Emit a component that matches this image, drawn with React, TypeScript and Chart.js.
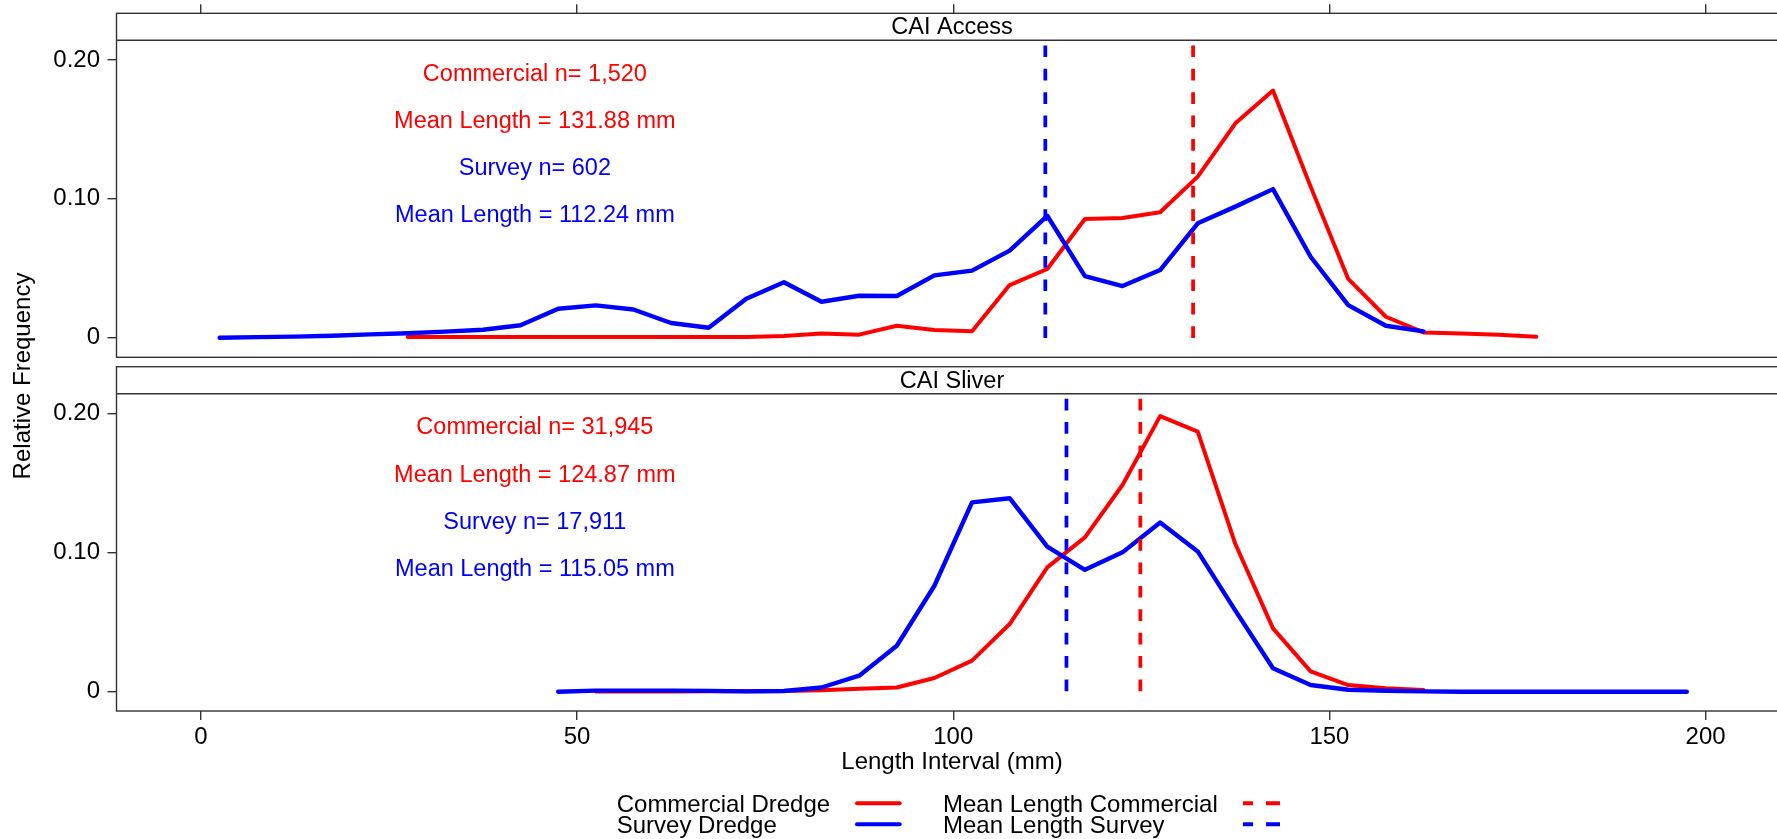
import React, { useEffect, useRef } from "react";
import { Chart, registerables } from "chart.js";

Chart.register(...registerables);

// ---- data ----------------------------------------------------------------
// Shell-length bin midpoints (mm)
const lengthBins = [
  2.5, 7.5, 12.5, 17.5, 22.5, 27.5, 32.5, 37.5, 42.5, 47.5,
  52.5, 57.5, 62.5, 67.5, 72.5, 77.5, 82.5, 87.5, 92.5, 97.5,
  102.5, 107.5, 112.5, 117.5, 122.5, 127.5, 132.5, 137.5, 142.5, 147.5,
  152.5, 157.5, 162.5, 167.5, 172.5, 177.5, 182.5, 187.5, 192.5, 197.5,
];

// CAI Access — relative frequency per bin (null = no fish in range)
const accessCommercial = [
  null, null, null, null, null, 0.0005, 0.0005, 0.0005, 0.0005, 0.0005,
  0.0005, 0.0005, 0.0005, 0.0005, 0.0005, 0.0013, 0.003, 0.0022, 0.0086, 0.0055,
  0.0046, 0.0379, 0.0495, 0.0855, 0.0862, 0.0903, 0.116, 0.1544, 0.178, 0.1088,
  0.0423, 0.0151, 0.0038, 0.0031, 0.0022, 0.0007, null, null, null, null,
];
const accessSurvey = [
  0, 0.0004, 0.0008, 0.0014, 0.0024, 0.0032, 0.0044, 0.0057, 0.009, 0.0208,
  0.0233, 0.0203, 0.0106, 0.0072, 0.028, 0.0399, 0.0259, 0.0302, 0.03, 0.0449,
  0.0483, 0.0627, 0.0878, 0.0444, 0.0372, 0.0487, 0.0824, 0.0944, 0.107, 0.0583,
  0.0235, 0.0086, 0.0045, null, null, null, null, null, null, null,
];

// CAI Sliver
const sliverCommercial = [
  null, null, null, null, null, null, null, null, null, null,
  0.0002, 0.0002, 0.0002, 0.0003, 0.0003, 0.0005, 0.001, 0.0022, 0.003, 0.0098,
  0.0223, 0.0486, 0.0893, 0.1109, 0.1485, 0.198, 0.1868, 0.1061, 0.0455, 0.0146,
  0.0048, 0.0024, 0.0012, null, null, null, null, null, null, null,
];
const sliverSurvey = [
  null, null, null, null, null, null, null, null, null, 0,
  0.0008, 0.0008, 0.0008, 0.0006, 0.0002, 0.0005, 0.003, 0.0115, 0.033, 0.0761,
  0.136, 0.139, 0.1042, 0.0876, 0.1001, 0.1216, 0.1008, 0.0582, 0.0168, 0.0048,
  0.0014, 0.0007, 0.0002, 0, 0, 0, 0, 0, 0, 0,
];

// Mean lengths (mm)
const accessMeans = { commercial: 131.88, survey: 112.24 };
const sliverMeans = { commercial: 124.87, survey: 115.05 };

// Panel titles and in-panel summary text
const panelTitles = ["CAI Access", "CAI Sliver"];
const accessSummary = ["Commercial n= 1,520", "Mean Length = 131.88 mm", "Survey n= 602", "Mean Length = 112.24 mm"];
const sliverSummary = ["Commercial n= 31,945", "Mean Length = 124.87 mm", "Survey n= 17,911", "Mean Length = 115.05 mm"];

// Axis ticks
const xTicks = [0, 50, 100, 150, 200];
const yTicks = [0, 0.1, 0.2];

// Legend entries
const legendSeries = ["Commercial Dredge", "Survey Dredge"];
const legendMeans = ["Mean Length Commercial", "Mean Length Survey"];

// ---- styling ---------------------------------------------------------------
const RED = "#ff0000";
const BLUE = "#0000ff";
const FRAME = "#333333";
const FONT = "'Liberation Sans', Arial, Helvetica, sans-serif";

const X_MIN = -11.204;
const X_MAX = 210.88;
const TOP_RANGE = { min: -0.02089, max: 0.23363 };
const BOT_RANGE = { min: -0.013865, max: 0.23348 };
const STRIP_H = 27;
const PANEL_GAP = 9.4;
const MEAN_LINE = { from: 0.2105, to: -0.001 };
const SUMMARY_X = 44.4;
const SUMMARY_Y0 = 0.185;
const SUMMARY_STEP = 0.034;

const toPoints = (vals: (number | null)[]) =>
  lengthBins
    .map((x, i) => ({ x, y: vals[i] }))
    .filter((p) => p.y !== null) as { x: number; y: number }[];

const seriesLine = (label: string, vals: (number | null)[], color: string, yAxisID: string, width: number, order: number) => ({
  label,
  data: toPoints(vals),
  borderColor: color,
  backgroundColor: color,
  borderWidth: width,
  pointRadius: 0,
  tension: 0,
  fill: false,
  borderJoinStyle: "round" as const,
  borderCapStyle: "round" as const,
  yAxisID,
  order,
});

const meanLine = (label: string, x: number, color: string, yAxisID: string) => ({
  label,
  data: [
    { x, y: MEAN_LINE.from },
    { x, y: MEAN_LINE.to },
  ],
  borderColor: color,
  backgroundColor: color,
  borderWidth: 3.75,
  borderDash: [11.7, 11.7],
  borderCapStyle: "butt" as const,
  pointRadius: 0,
  fill: false,
  yAxisID,
  order: 0,
});

const yAxis = (range: { min: number; max: number }, weight: number) => ({
  type: "linear" as const,
  position: "left" as const,
  stack: "panels",
  stackWeight: weight,
  min: range.min,
  max: range.max,
  afterBuildTicks: (axis: any) => {
    axis.ticks = yTicks.map((value) => ({ value }));
  },
  afterFit: (axis: any) => {
    axis.width = 116.5;
    axis.paddingTop = 0;
    axis.paddingBottom = 0;
  },
  grid: { drawOnChartArea: false, drawTicks: true, tickLength: 9, color: FRAME, lineWidth: 1.4 },
  border: { display: false },
  ticks: {
    color: "#000",
    padding: 7.5,
    font: { size: 24, family: FONT },
    callback: (v: any) => (Number(v) === 0 ? "0" : Number(v).toFixed(2)),
  },
});

const xAxis = (position: "top" | "bottom", height: number, showLabels: boolean) => ({
  type: "linear" as const,
  position,
  min: X_MIN,
  max: X_MAX,
  afterBuildTicks: (axis: any) => {
    axis.ticks = xTicks.map((value) => ({ value }));
  },
  afterFit: (axis: any) => {
    axis.height = height;
    axis.paddingLeft = 0;
    axis.paddingRight = 0;
  },
  grid: { drawOnChartArea: false, drawTicks: true, tickLength: 9, color: FRAME, lineWidth: 1.4 },
  border: { display: false },
  ticks: {
    display: showLabels,
    color: "#000",
    padding: 3,
    maxRotation: 0,
    autoSkip: false,
    font: { size: 24, family: FONT },
    callback: (v: any) => String(v),
  },
});

// Frames, strip headers, summary text, axis titles and legend
const panelDecor = {
  id: "panelDecor",
  beforeDraw(chart: any) {
    const { ctx, width, height } = chart;
    ctx.save();
    ctx.fillStyle = "#fff";
    ctx.fillRect(0, 0, width, height);
    ctx.restore();
  },
  afterDatasetsDraw(chart: any) {
    const { ctx, chartArea } = chart;
    const left = chartArea.left;
    const right = chartArea.right;
    const xs = chart.scales.x;
    const panels = [
      { axis: "yTop", title: panelTitles[0], summary: accessSummary, gap: PANEL_GAP },
      { axis: "yBot", title: panelTitles[1], summary: sliverSummary, gap: 0 },
    ];
    const summaryColors = [RED, RED, BLUE, BLUE];

    ctx.save();
    panels.forEach((p) => {
      const s = chart.scales[p.axis];
      const top = s.top;
      const bottom = s.bottom - p.gap;
      // strip
      ctx.fillStyle = "#fff";
      ctx.fillRect(left, top, right - left, STRIP_H);
      ctx.strokeStyle = FRAME;
      ctx.lineWidth = 1.4;
      ctx.strokeRect(left, top, right - left, bottom - top);
      ctx.beginPath();
      ctx.moveTo(left, top + STRIP_H);
      ctx.lineTo(right, top + STRIP_H);
      ctx.stroke();
      ctx.fillStyle = "#000";
      ctx.font = `23.5px ${FONT}`;
      ctx.textAlign = "center";
      ctx.textBaseline = "alphabetic";
      ctx.fillText(p.title, (left + right) / 2, top + 21);
      // summary text
      const cx = xs.getPixelForValue(SUMMARY_X);
      p.summary.forEach((t, i) => {
        ctx.fillStyle = summaryColors[i];
        ctx.fillText(t, cx, s.getPixelForValue(SUMMARY_Y0 - i * SUMMARY_STEP));
      });
    });

    // axis titles
    ctx.fillStyle = "#000";
    ctx.font = `24px ${FONT}`;
    ctx.textAlign = "center";
    ctx.fillText("Length Interval (mm)", (left + right) / 2, 769);
    ctx.save();
    ctx.translate(30, 376);
    ctx.rotate(-Math.PI / 2);
    ctx.fillText("Relative Frequency", 0, 0);
    ctx.restore();

    // legend
    ctx.textAlign = "left";
    const colColors = [RED, BLUE];
    const baselines = [812.3, 833.3];
    const symbolY = [803.3, 824.3];
    legendSeries.forEach((t, i) => {
      ctx.fillStyle = "#000";
      ctx.fillText(t, 616.7, baselines[i]);
      ctx.strokeStyle = colColors[i];
      ctx.lineWidth = 4;
      ctx.lineCap = "round";
      ctx.setLineDash([]);
      ctx.beginPath();
      ctx.moveTo(857, symbolY[i]);
      ctx.lineTo(899.7, symbolY[i]);
      ctx.stroke();
    });
    legendMeans.forEach((t, i) => {
      ctx.fillStyle = "#000";
      ctx.fillText(t, 943, baselines[i]);
      ctx.strokeStyle = colColors[i];
      ctx.lineWidth = 4;
      ctx.lineCap = "butt";
      ctx.beginPath();
      ctx.moveTo(1243, symbolY[i]);
      ctx.lineTo(1253, symbolY[i]);
      ctx.moveTo(1266, symbolY[i]);
      ctx.lineTo(1280, symbolY[i]);
      ctx.stroke();
    });
    ctx.restore();
  },
};

export default function App() {
  const canvasRef = useRef<HTMLCanvasElement>(null);

  useEffect(() => {
    document.body.style.margin = "0";
    const canvas = canvasRef.current;
    if (!canvas) return;
    Chart.defaults.font.family = FONT;
    Chart.defaults.color = "#000";

    const chart = new Chart(canvas, {
      type: "line",
      data: {
        datasets: [
          meanLine("Mean Length Survey (Access)", accessMeans.survey, BLUE, "yTop"),
          meanLine("Mean Length Commercial (Access)", accessMeans.commercial, RED, "yTop"),
          meanLine("Mean Length Survey (Sliver)", sliverMeans.survey, BLUE, "yBot"),
          meanLine("Mean Length Commercial (Sliver)", sliverMeans.commercial, RED, "yBot"),
          seriesLine("Survey Dredge (Access)", accessSurvey, BLUE, "yTop", 4.4, 1),
          seriesLine("Survey Dredge (Sliver)", sliverSurvey, BLUE, "yBot", 4.4, 1),
          seriesLine("Commercial Dredge (Access)", accessCommercial, RED, "yTop", 4, 2),
          seriesLine("Commercial Dredge (Sliver)", sliverCommercial, RED, "yBot", 4, 2),
        ],
      },
      options: {
        animation: false,
        responsive: false,
        maintainAspectRatio: false,
        devicePixelRatio: 1,
        layout: { padding: { left: 0, top: 0, right: 2.5, bottom: 0 } },
        plugins: {
          legend: { display: false },
          tooltip: { enabled: false },
          title: { display: false },
        },
        scales: {
          x: xAxis("bottom", 128, true),
          xTop: xAxis("top", 13.3, false),
          yBot: yAxis(BOT_RANGE, 344.3),
          yTop: yAxis(TOP_RANGE, 353.4),
        },
      } as any,
      plugins: [panelDecor],
    });

    return () => chart.destroy();
  }, []);

  return (
    <div
      style={{
        position: "fixed",
        left: 0,
        top: 0,
        width: 1777,
        height: 839,
        overflow: "hidden",
        background: "#fff",
      }}
    >
      <canvas ref={canvasRef} width={1790} height={839} style={{ display: "block", width: 1790, height: 839 }} />
    </div>
  );
}
